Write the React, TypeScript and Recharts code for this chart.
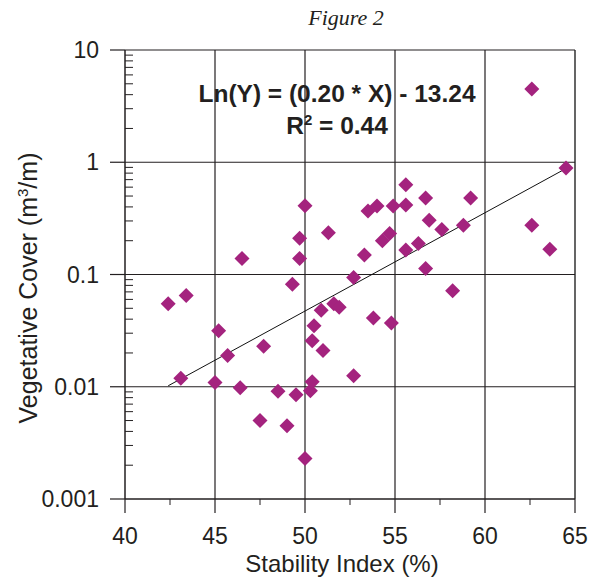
import { ScatterChart, Scatter, XAxis, YAxis, ReferenceLine } from 'recharts'

// Figure 2: vegetative cover vs stability index (log y)
const stabilityIndex = [
  42.4, 43.4, 43.1, 45.2, 45.7, 45.0, 46.5, 46.4, 47.7, 47.5, 48.5, 49.0, 49.3,
  49.5, 49.7, 49.7, 50.0, 50.0, 50.3, 50.4, 50.4, 50.5, 50.9, 51.0, 51.3, 51.6,
  51.9, 52.7, 52.7, 53.3, 53.5, 53.8, 54.0, 54.3, 54.7, 54.8, 54.9, 55.6, 55.6,
  55.6, 56.3, 56.7, 56.7, 56.9, 57.6, 58.2, 58.8, 59.2, 62.6, 62.6, 63.6, 64.5,
]
const vegetativeCover = [
  0.055, 0.065, 0.0119, 0.0315, 0.019, 0.0109, 0.139, 0.0098, 0.023, 0.005,
  0.0091, 0.0045, 0.082, 0.0085, 0.21, 0.139, 0.41, 0.0023, 0.0092, 0.0111,
  0.0257, 0.035, 0.048, 0.021, 0.235, 0.055, 0.051, 0.094, 0.0125, 0.149, 0.367,
  0.041, 0.407, 0.2, 0.232, 0.037, 0.407, 0.63, 0.417, 0.165, 0.189, 0.48, 0.113,
  0.305, 0.252, 0.0716, 0.275, 0.48, 4.49, 0.275, 0.168, 0.89,
]

// fitted line end points
const trendX = [42.4, 64.5]
const trendY = [0.0102, 0.88]

const xTicks = [40, 42.5, 45, 47.5, 50, 52.5, 55, 57.5, 60, 62.5, 65]
const xMajor = [40, 45, 50, 55, 60, 65]
const yMajor = [0.001, 0.01, 0.1, 1, 10]
const yMinorSteps = [2, 3, 4, 5, 6, 7, 8, 9]

const INK = '#231f20'
const MARKER = '#a4237e'
const FONT = '"Liberation Sans", Arial, sans-serif'

const points = stabilityIndex.map((x, i) => ({ x, y: vegetativeCover[i] }))
const trend = trendX.map((x, i) => ({ x, y: trendY[i] }))
const yTicks = [
  ...yMajor,
  ...yMajor.slice(0, -1).flatMap((d) => yMinorSteps.map((s) => d * s)),
]

function YTick({ x, y, payload }: any) {
  if (!yMajor.includes(payload.value)) {
    return <line x1={x} x2={x + 8} y1={y} y2={y} stroke={INK} strokeWidth={1} />
  }
  return (
    <g>
      <line x1={x - 15} x2={x} y1={y} y2={y} stroke={INK} strokeWidth={1.2} />
      <text x={x - 26} y={y + 8} textAnchor="end" fontSize={23} fontFamily={FONT} fill={INK}>
        {String(payload.value)}
      </text>
    </g>
  )
}

function XTick({ x, y, payload }: any) {
  if (!xMajor.includes(payload.value)) {
    return <line x1={x} x2={x} y1={y} y2={y + 6} stroke={INK} strokeWidth={1} />
  }
  return (
    <g>
      <line x1={x} x2={x} y1={y} y2={y + 14} stroke={INK} strokeWidth={1.2} />
      <text x={x} y={y + 45} textAnchor="middle" fontSize={23} fontFamily={FONT} fill={INK}>
        {payload.value}
      </text>
    </g>
  )
}

function Diamond({ cx, cy }: any) {
  const r = 7.5
  return (
    <polygon
      points={`${cx},${cy - r} ${cx + r},${cy} ${cx},${cy + r} ${cx - r},${cy}`}
      fill={MARKER}
    />
  )
}

export default function App() {
  return (
    <div style={{ position: 'absolute', left: 0, top: 0, width: 594, height: 581, background: '#fff' }}>
      <ScatterChart width={594} height={581} margin={{ top: 50, right: 19, bottom: 42, left: 25 }}>
        <XAxis
          type="number"
          dataKey="x"
          domain={[40, 65]}
          ticks={xTicks}
          interval={0}
          height={40}
          tickSize={0}
          tickMargin={0}
          tickLine={false}
          tick={(p: any) => <XTick {...p} />}
          axisLine={{ stroke: INK, strokeWidth: 1.5 }}
        />
        <YAxis
          type="number"
          dataKey="y"
          scale="log"
          domain={[0.001, 10]}
          allowDataOverflow
          ticks={yTicks}
          interval={0}
          width={100}
          tickSize={0}
          tickMargin={0}
          tickLine={false}
          tick={(p: any) => <YTick {...p} />}
          axisLine={{ stroke: INK, strokeWidth: 1.5 }}
        />
        {xMajor.slice(1).map((v) => (
          <ReferenceLine
            key={'x' + v}
            x={v}
            zIndex={-50}
            stroke={v === 65 ? '#555' : INK}
            strokeWidth={v === 65 ? 1.8 : 1.2}
          />
        ))}
        {yMajor.slice(1).map((v) => (
          <ReferenceLine key={'y' + v} y={v} zIndex={-50} stroke={INK} strokeWidth={1.2} />
        ))}
        <Scatter
          data={trend}
          line={{ stroke: '#111', strokeWidth: 1 }}
          shape={() => <g />}
          legendType="none"
          isAnimationActive={false}
        />
        <Scatter data={points} shape={(p: any) => <Diamond {...p} />} isAnimationActive={false} />
      </ScatterChart>
      <svg
        width={594}
        height={581}
        style={{ position: 'absolute', left: 0, top: 0, pointerEvents: 'none' }}
      >
        <text
          x={346}
          y={25}
          textAnchor="middle"
          fontSize={22}
          fontStyle="italic"
          fontFamily='"Liberation Serif", "Times New Roman", serif'
          fill={INK}
        >
          Figure 2
        </text>
        <g fontFamily={FONT} fontWeight="bold" fontSize={24.5} fill={INK} textAnchor="middle">
          <text x={337} y={102}>Ln(Y) = (0.20 * X) - 13.24</text>
          <text x={337} y={134}>
            R<tspan fontSize={15} dy={-9}>2</tspan>
            <tspan dy={9}> = 0.44</tspan>
          </text>
        </g>
        <text x={342} y={572} textAnchor="middle" fontSize={24} fontFamily={FONT} fill={INK}>
          Stability Index (%)
        </text>
        <text
          x={37}
          y={288}
          transform="rotate(-90 37 288)"
          textAnchor="middle"
          fontSize={25}
          fontFamily={FONT}
          fill={INK}
        >
          Vegetative Cover (m<tspan fontSize={15} dy={-9}>3</tspan>
          <tspan dy={9}>/m)</tspan>
        </text>
      </svg>
    </div>
  )
}
